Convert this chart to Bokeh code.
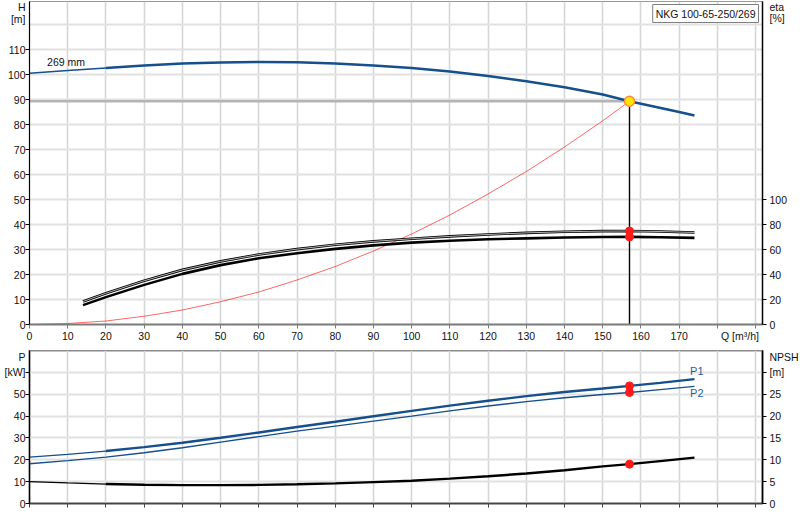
from bokeh.plotting import figure
from bokeh.models import Range1d, LinearAxis, FixedTicker, Label
from bokeh.layouts import column
from bokeh.embed import file_html
from bokeh.resources import INLINE

# ---------------- data ----------------
Q_H = [0, 10, 20, 30, 40, 50, 60, 70, 80, 90, 100, 110, 120, 130, 140, 150, 157, 160, 170, 174]
H_269 = [100.5, 101.6, 102.6, 103.6, 104.4, 104.8, 105.0, 104.9, 104.4, 103.6, 102.6, 101.2,
         99.4, 97.3, 94.9, 92.0, 89.3, 88.3, 85.0, 83.6]

Q_ETA = [14, 20, 30, 40, 50, 60, 70, 80, 90, 100, 110, 120, 130, 140, 150, 157, 165, 174]
ETA_UP = [18.4, 25.0, 35.0, 43.7, 50.5, 56.0, 60.3, 63.8, 66.5, 68.6, 70.5, 72.0, 73.3, 74.2,
          74.7, 74.8, 74.4, 73.6]
ETA_LO = [15.5, 21.9, 31.7, 40.5, 47.5, 53.0, 57.0, 60.5, 63.3, 65.5, 67.0, 68.2, 68.9, 69.6,
          70.0, 70.1, 69.8, 69.3]

Q_SYS = [0, 10, 20, 30, 40, 50, 60, 70, 80, 90, 100, 110, 120, 130, 140, 150, 157]
H_SYS = [0, 0.4, 1.4, 3.3, 5.8, 9.1, 13.0, 17.8, 23.2, 29.4, 36.2, 43.8, 52.2, 61.2, 71.0, 81.5, 89.3]

Q_P = [0, 10, 20, 30, 40, 50, 60, 70, 80, 90, 100, 110, 120, 130, 140, 150, 157, 165, 174]
P1 = [21.2, 22.5, 24.0, 25.8, 27.8, 30.1, 32.5, 35.0, 37.4, 39.9, 42.4, 44.8, 47.0, 49.1, 51.0,
      52.6, 53.8, 55.2, 56.9]
P2 = [18.2, 19.6, 21.2, 23.2, 25.5, 28.1, 30.6, 33.1, 35.4, 37.7, 40.0, 42.4, 44.6, 46.6, 48.4,
      49.9, 50.8, 52.1, 53.6]
NPSH = [5.0, 4.7, 4.45, 4.3, 4.2, 4.2, 4.25, 4.4, 4.6, 4.9, 5.2, 5.7, 6.25, 6.85, 7.6, 8.5, 9.0,
        9.7, 10.5]

Q_DUTY = 157
H_DUTY = 89.3
ETA_DUTY = [74.8, 70.1]
P_DUTY = [53.8, 50.8]
NPSH_DUTY = 9.0

# tick positions: labelled ticks (major) and tick marks (minor)
X_MARKS = list(range(0, 200, 10))
X_TICKS = list(range(0, 180, 10)) + [185.9]
X_LABELS = {185.9: "Q [m³/h]"}
H_GRID = list(range(0, 130, 10))
H_MARKS = list(range(0, 120, 10))
H_TICKS = H_MARKS + [122.4, 127.6]
H_LABELS = {122.4: "[m]", 127.6: "H"}
ETA_MARKS = [0, 20, 40, 60, 80, 100]
ETA_TICKS = ETA_MARKS + [245.2, 255.2]
ETA_LABELS = {245.2: "[%]", 255.2: "eta"}
P_MARKS = list(range(0, 70, 10))
P_TICKS = P_MARKS + [67.7]
P_LABELS = {60: "[kW]", 67.7: "P"}
NPSH_MARKS = [0, 5, 10, 15, 20, 25, 30]
NPSH_TICKS = NPSH_MARKS + [33.85]
NPSH_LABELS = {30: "[m]", 33.85: "NPSH"}

TITLE = "NKG 100-65-250/269"
CURVE_LABEL = "269 mm"

# ---------------- styling ----------------
FONT = "Liberation Sans"
FS = "10.5px"
TXT = "#111111"
BLUE = "#154f8c"
LBLUE = "#1f5fa0"
X_END = 191.8
H_END = 129.2
FW = 733
BL, BR = 29, 38

def style_axis(ax, color="black", lw=1, standoff=0):
    ax.axis_line_color = color
    ax.axis_line_width = lw
    ax.major_tick_line_color = None
    ax.major_tick_out = 0
    ax.major_tick_in = 0
    ax.minor_tick_line_color = color
    ax.minor_tick_line_width = 1
    ax.minor_tick_out = 4
    ax.minor_tick_in = 0
    ax.major_label_text_font = FONT
    ax.major_label_text_font_size = FS
    ax.major_label_text_color = TXT
    ax.major_label_standoff = standoff

def lab(p, x, y, text, align="left", base="middle", xo=0, yo=0, color=TXT, size=FS, **kw):
    p.add_layout(Label(x=x, y=y, text=text, text_align=align, text_baseline=base,
                       x_offset=xo, y_offset=yo, text_font=FONT, text_font_size=size,
                       text_color=color, **kw))

# ---------------- top chart ----------------
p1 = figure(frame_width=FW, frame_height=323, x_range=Range1d(0, X_END), y_range=Range1d(0, H_END),
            output_backend="svg", toolbar_location=None,
            min_border_left=BL, min_border_right=BR, min_border_top=1, min_border_bottom=26)
p1.extra_y_ranges = {"eta": Range1d(0, 2 * H_END)}
p1.outline_line_color = "#999999"

p1.xaxis.ticker = FixedTicker(ticks=X_TICKS, minor_ticks=X_MARKS)
p1.yaxis.ticker = FixedTicker(ticks=H_TICKS, minor_ticks=H_MARKS)
style_axis(p1.xaxis[0], "#7a7a7a", 2, standoff=1)
style_axis(p1.yaxis[0], "black", 1.2, standoff=0)
p1.xaxis.major_label_overrides = X_LABELS
p1.yaxis.major_label_overrides = H_LABELS
ax_eta = LinearAxis(y_range_name="eta", ticker=FixedTicker(ticks=ETA_TICKS, minor_ticks=ETA_MARKS),
                    major_label_overrides=ETA_LABELS)
style_axis(ax_eta, "black", 1.5, standoff=3)
p1.add_layout(ax_eta, "right")

p1.xgrid.ticker = FixedTicker(ticks=X_MARKS, minor_ticks=[])
p1.ygrid.ticker = FixedTicker(ticks=H_GRID, minor_ticks=[])
p1.xgrid.grid_line_color = "#d4d7d7"
p1.xgrid.grid_line_width = 1.6
p1.ygrid.grid_line_color = "#e1e1e1"
p1.ygrid.grid_line_width = 2

# duty lines
p1.line([0, Q_DUTY], [H_DUTY, H_DUTY], line_color="#b4b4b4", line_width=2.6)
p1.line([Q_DUTY, Q_DUTY], [0, H_DUTY], line_color="black", line_width=1.4)
# system curve
p1.line(Q_SYS, H_SYS, line_color="#ff0000", line_alpha=0.6, line_width=1)
# efficiency curves
p1.line(Q_ETA, ETA_UP, y_range_name="eta", line_color="black", line_width=2.6)
p1.line(Q_ETA, ETA_UP, y_range_name="eta", line_color="white", line_width=0.7)
p1.line(Q_ETA, ETA_LO, y_range_name="eta", line_color="black", line_width=2.6)
# head curve
p1.line(Q_H[:3], H_269[:3], line_color=BLUE, line_width=1.3)
p1.line(Q_H[2:], H_269[2:], line_color=BLUE, line_width=2.4)
# points
p1.scatter([Q_DUTY, Q_DUTY], ETA_DUTY, y_range_name="eta", size=8, fill_color="#ff1a1a",
           line_color="#ff1a1a")
p1.scatter([Q_DUTY], [H_DUTY], size=10, fill_color="#ffe600", line_color="#ff8a3d", line_width=1.5)

lab(p1, 4.6, 105.2, CURVE_LABEL)
p1.add_layout(Label(x=X_END, y=H_END, text=TITLE, text_align="right", text_baseline="top",
                    x_offset=-4, y_offset=-3, text_font=FONT, text_font_size=FS,
                    text_color=TXT, padding=3, border_line_color="#808080",
                    background_fill_color="white"))

# ---------------- bottom chart ----------------
p2 = figure(frame_width=FW, frame_height=153, x_range=p1.x_range, y_range=Range1d(0, 70),
            output_backend="svg", toolbar_location=None,
            min_border_left=BL, min_border_right=BR, min_border_top=0, min_border_bottom=12)
p2.extra_y_ranges = {"npsh": Range1d(0, 35)}
p2.outline_line_color = "#8a8a8a"
p2.outline_line_width = 2

# bottom axis: tick marks only, no labels
p2.xaxis.ticker = FixedTicker(ticks=[], minor_ticks=X_MARKS)
style_axis(p2.xaxis[0], "#444444", 1.5, standoff=0)
p2.yaxis.ticker = FixedTicker(ticks=P_TICKS, minor_ticks=P_MARKS)
style_axis(p2.yaxis[0], "black", 1.2, standoff=0)
p2.yaxis.major_label_overrides = P_LABELS
ax_npsh = LinearAxis(y_range_name="npsh", ticker=FixedTicker(ticks=NPSH_TICKS, minor_ticks=NPSH_MARKS),
                     major_label_overrides=NPSH_LABELS)
style_axis(ax_npsh, "black", 1.5, standoff=3)
p2.add_layout(ax_npsh, "right")

p2.xgrid.ticker = FixedTicker(ticks=X_MARKS, minor_ticks=[])
p2.ygrid.ticker = FixedTicker(ticks=P_MARKS, minor_ticks=[])
p2.xgrid.grid_line_color = "#d4d7d7"
p2.xgrid.grid_line_width = 1.6
p2.ygrid.grid_line_color = "#e1e1e1"
p2.ygrid.grid_line_width = 2

p2.line(Q_P[:3], P1[:3], line_color=BLUE, line_width=1.3)
p2.line(Q_P[2:], P1[2:], line_color=BLUE, line_width=2.4)
p2.line(Q_P, P2, line_color=BLUE, line_width=1.4)
p2.line(Q_P[:3], NPSH[:3], y_range_name="npsh", line_color="black", line_width=1.3)
p2.line(Q_P[2:], NPSH[2:], y_range_name="npsh", line_color="black", line_width=2.4)
p2.scatter([Q_DUTY, Q_DUTY], P_DUTY, size=8, fill_color="#ff1a1a", line_color="#ff1a1a")
p2.scatter([Q_DUTY], [NPSH_DUTY], y_range_name="npsh", size=8, fill_color="#ff1a1a",
           line_color="#ff1a1a")

lab(p2, 174.6, 60.4, "P1", align="center", color=LBLUE, size="11px")
lab(p2, 174.6, 50.5, "P2", align="center", color=LBLUE, size="11px")

layout = column(p1, p2)
open("out.html", "w").write(file_html(layout, INLINE))
